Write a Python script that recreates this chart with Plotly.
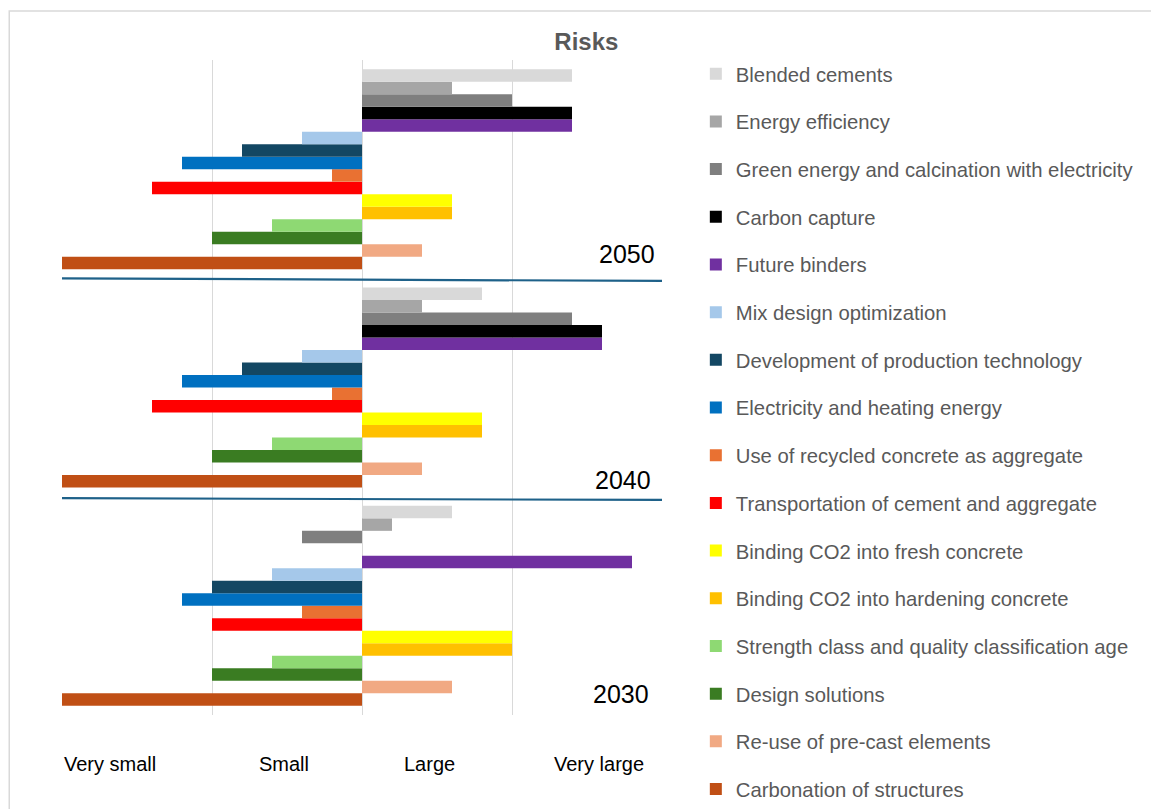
import plotly.graph_objects as go

# Years shown as bar groups (top to bottom)
years = ["2050", "2040", "2030"]

# Measures (legend order, top bar of each group first)
measures = [
    "Blended cements",
    "Energy efficiency",
    "Green energy and calcination with electricity",
    "Carbon capture",
    "Future binders",
    "Mix design optimization",
    "Development of production technology",
    "Electricity and heating energy",
    "Use of recycled concrete as aggregate",
    "Transportation of cement and aggregate",
    "Binding CO2 into fresh concrete",
    "Binding CO2 into hardening concrete",
    "Strength class and quality classification age",
    "Design solutions",
    "Re-use of pre-cast elements",
    "Carbonation of structures",
]

colors = [
    "#D9D9D9", "#A6A6A6", "#7F7F7F", "#000000", "#7030A0",
    "#A5C8EA", "#134763", "#0070C0", "#E97132", "#FF0000",
    "#FFFF00", "#FFC000", "#8ED973", "#3A7C22", "#F1A983", "#C04F15",
]

# Risk scores per year (negative = small risk, positive = large risk)
risk_2050 = [1.4, 0.6, 1.0, 1.4, 1.4, -0.4, -0.8, -1.2, -0.2, -1.4, 0.6, 0.6, -0.6, -1.0, 0.4, -2.0]
risk_2040 = [0.8, 0.4, 1.4, 1.6, 1.6, -0.4, -0.8, -1.2, -0.2, -1.4, 0.8, 0.8, -0.6, -1.0, 0.4, -2.0]
risk_2030 = [0.6, 0.2, -0.4, 0.0, 1.8, -0.6, -1.0, -1.2, -0.4, -1.0, 1.0, 1.0, -0.6, -1.0, 0.6, -2.0]

# Scale labels and where they sit on the risk axis
scale_labels = ["Very small", "Small", "Large", "Very large"]
scale_pos = [-2.0, -0.52, 0.45, 1.89]
scale_anchor = ["left", "center", "center", "right"]

GRAY_TEXT = "#595959"
FONT = "Liberation Sans, Arial, sans-serif"

# Category axis runs bottom-up: 2030, 2040, 2050
year_axis = years[::-1]
# Pixel offsets of the year labels within their group (2030, 2040, 2050)
year_label_shift = [(-11, -88), (-9, -92), (-5, -85)]

fig = go.Figure()
# Horizontal grouped bars stack the first trace lowest, so add measures
# last-to-first to keep "Blended cements" on top of each group; legendrank
# keeps the legend in the measures' own order.
for i in reversed(range(len(measures))):
    name = measures[i]
    fig.add_trace(go.Bar(
        name=name,
        orientation="h",
        y=list(years),
        x=[float(risk_2050[i]), float(risk_2040[i]), float(risk_2030[i])],
        marker=dict(color=colors[i], line=dict(width=0)),
        legendgroup=name,
        legendrank=1000 + i,
    ))

W, H = 1151, 809
L, R, T, B = 62, 486, 60, 94
pw, ph = W - L - R, H - T - B

def px_x(p):
    return (p - L) / pw

def px_y(p):
    return (H - B - p) / ph

fig.update_layout(
    width=W, height=H,
    margin=dict(l=L, r=R, t=T, b=B),
    paper_bgcolor="white", plot_bgcolor="white",
    barmode="group", bargap=0.084, bargroupgap=0,
    font=dict(family=FONT, color=GRAY_TEXT),
    title=dict(
        text="<b>Risks</b>", x=px_x(589), xref="paper", xanchor="center",
        y=1 - 42 / H, yref="container", yanchor="middle",
        font=dict(size=24, color=GRAY_TEXT, family=FONT),
    ),
    xaxis=dict(
        range=[-2, 2], tickvals=[-2, -1, 0, 1, 2], showticklabels=False,
        showgrid=True, gridcolor="#D9D9D9", gridwidth=1, zeroline=False,
        showline=False,
    ),
    yaxis=dict(
        type="category", categoryorder="array", categoryarray=year_axis,
        range=[-0.5, 2.5], showticklabels=False, showgrid=False,
        zeroline=False, showline=False, ticks="",
    ),
    legend=dict(
        x=px_x(699), xanchor="left", y=px_y(59), yanchor="top",
        font=dict(size=20.3, color=GRAY_TEXT, family=FONT),
        tracegroupgap=18.3, itemwidth=30, bgcolor="rgba(0,0,0,0)",
        maxheight=1.0, traceorder="grouped",
    ),
    showlegend=True,
)

# Separators between year groups (category index: 2030=0, 2040=1, 2050=2)
fig.add_shape(type="line", xref="x", yref="y", x0=-2, x1=2.01, y0=1.5, y1=1.488,
              line=dict(color="#1E6189", width=2.2))
fig.add_shape(type="line", xref="x", yref="y", x0=-2, x1=2.01, y0=0.493, y1=0.485,
              line=dict(color="#1E6189", width=2.2))

# Outer chart frame
fig.add_shape(type="rect", xref="paper", yref="paper",
              x0=px_x(9), x1=px_x(1200), y0=px_y(850), y1=px_y(11),
              line=dict(color="#D9D9D9", width=1.5), fillcolor="rgba(0,0,0,0)", layer="below")

# Year labels inside each group (placed by category index)
for idx, yr in enumerate(year_axis):
    dx, dy = year_label_shift[idx]
    fig.add_annotation(x=2, y=idx, xref="x", yref="y", text=yr, showarrow=False,
                       xanchor="right", yanchor="middle", xshift=dx, yshift=dy,
                       font=dict(size=25, color="black", family=FONT))

# Risk scale labels under the plot
for lab, pos, anc in zip(scale_labels, scale_pos, scale_anchor):
    fig.add_annotation(x=pos, y=0, xref="x", yref="paper", text=lab, showarrow=False,
                       xanchor=anc, yanchor="middle", yshift=-49,
                       font=dict(size=20, color="black", family=FONT))

fig.write_html("out.html")
